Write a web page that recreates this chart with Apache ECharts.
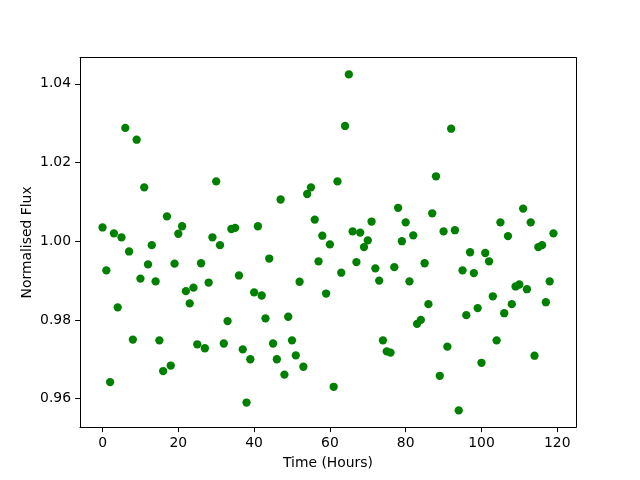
<!DOCTYPE html>
<html>
<head>
<meta charset="utf-8">
<script src="https://cdn.jsdelivr.net/npm/echarts@6/dist/echarts.min.js"></script>
<style>html,body{margin:0;padding:0;background:#fff}#c{width:640px;height:480px}</style>
</head>
<body>
<div id="c"></div>
<script>
var hours = [];
for (var h = 0; h < 120; h++) hours.push(h);
var flux = [
1.0035,0.9926,0.9642,1.0020,0.9832,1.0010,1.0288,0.9974,0.9750,1.0258,
0.9905,1.0137,0.9941,0.9990,0.9898,0.9748,0.9670,1.0063,0.9684,0.9943,
1.0019,1.0038,0.9873,0.9842,0.9882,0.9738,0.9944,0.9728,0.9895,1.0010,
1.0152,0.9990,0.9740,0.9797,1.0031,1.0034,0.9913,0.9725,0.9590,0.9700,
0.9870,1.0038,0.9862,0.9804,0.9956,0.9740,0.9700,1.0106,0.9661,0.9808,
0.9748,0.9710,0.9897,0.9681,1.0120,1.0137,1.0055,0.9949,1.0014,0.9867,
0.9992,0.9630,1.0152,0.9920,1.0293,1.0424,1.0025,0.9947,1.0022,0.9985,
1.0002,1.0050,0.9931,0.9900,0.9748,0.9720,0.9717,0.9934,1.0085,1.0000,
1.0048,0.9898,1.0015,0.9790,0.9800,0.9944,0.9840,1.0071,1.0165,0.9658,
1.0025,0.9732,1.0286,1.0028,0.9570,0.9926,0.9812,0.9972,0.9919,0.9830,
0.9691,0.9970,0.9949,0.9860,0.9748,1.0048,0.9817,1.0013,0.9840,0.9885,
0.9890,1.0083,0.9878,1.0048,0.9709,0.9985,0.9990,0.9845,0.9898,1.0020
];
var xTicks = [0, 20, 40, 60, 80, 100, 120];
var yTicks = [0.96, 0.98, 1.00, 1.02, 1.04];

var xMin = -5.95, xMax = 124.95;
var fmin = Math.min.apply(null, flux), fmax = Math.max.apply(null, flux);
var yPad = (fmax - fmin) * 0.05;
var yMin = fmin - yPad, yMax = fmax + yPad;

var data = hours.map(function (h, i) { return [h, flux[i]]; });
var font = 'DejaVu Sans';
var lineStyle = { color: '#000', width: 1 };

var chart = echarts.init(document.getElementById('c'), null, { renderer: 'canvas' });
chart.setOption({
  animation: false,
  backgroundColor: '#fff',
  grid: { left: 80, right: 64, top: 57.6, bottom: 52.8, containLabel: false },
  xAxis: [{
    type: 'value', min: xMin, max: xMax, position: 'bottom',
    name: 'Time (Hours)', nameLocation: 'middle', nameGap: 29, nameMoveOverlap: false,
    nameTextStyle: { fontFamily: font, fontSize: 13.9, color: '#000' },
    axisLine: { show: true, onZero: false, lineStyle: lineStyle },
    axisTick: { show: true, inside: false, length: 4.9, lineStyle: lineStyle, customValues: xTicks },
    axisLabel: { show: true, margin: 9, fontFamily: font, fontSize: 13.9, color: '#000', customValues: xTicks,
      formatter: function (v) { return String(Math.round(v)); } },
    splitLine: { show: false }
  }, {
    type: 'value', min: xMin, max: xMax, position: 'top',
    axisLine: { show: true, onZero: false, lineStyle: lineStyle },
    axisTick: { show: false }, axisLabel: { show: false }, splitLine: { show: false }
  }],
  yAxis: [{
    type: 'value', min: yMin, max: yMax, position: 'left',
    name: 'Normalised Flux', nameLocation: 'middle', nameGap: 46, nameMoveOverlap: false,
    nameTextStyle: { fontFamily: font, fontSize: 13.9, color: '#000' },
    axisLine: { show: true, onZero: false, lineStyle: lineStyle },
    axisTick: { show: true, inside: false, length: 4.9, lineStyle: lineStyle, customValues: yTicks },
    axisLabel: { show: true, margin: 9, fontFamily: font, fontSize: 13.9, color: '#000', customValues: yTicks,
      formatter: function (v) { return v.toFixed(2); } },
    splitLine: { show: false }
  }, {
    type: 'value', min: yMin, max: yMax, position: 'right',
    axisLine: { show: true, onZero: false, lineStyle: lineStyle },
    axisTick: { show: false }, axisLabel: { show: false }, splitLine: { show: false }
  }],
  series: [{
    type: 'scatter', xAxisIndex: 0, yAxisIndex: 0,
    data: data, symbol: 'circle', symbolSize: 8.3,
    itemStyle: { color: '#008000', opacity: 1 }
  }]
});
</script>
</body>
</html>
